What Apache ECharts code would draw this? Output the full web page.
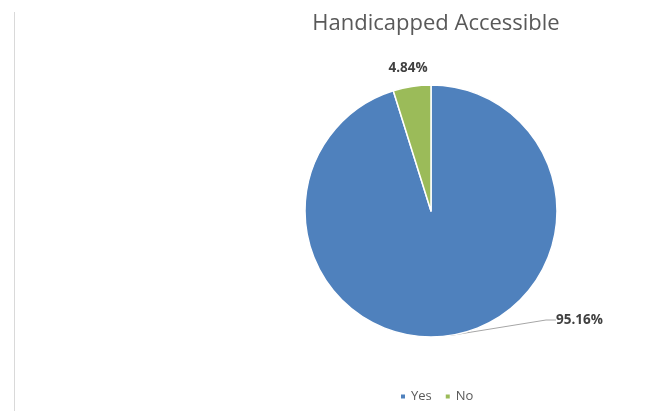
<!DOCTYPE html>
<html><head><meta charset="utf-8">
<script src="https://cdn.jsdelivr.net/npm/echarts@6/dist/echarts.min.js"></script>
<style>html,body{margin:0;padding:0;background:#fff}#c{width:665px;height:415px}</style>
</head><body><div id="c"></div>
<script>
const categories = ['Yes', 'No'];
const values = [95.16, 4.84];
const colors = ['#4f81bd', '#9bbb59'];
const chart = echarts.init(document.getElementById('c'));
chart.setOption({
  animation: false,
  graphic: [{ type: 'line', shape: { x1: 14.5, y1: 12, x2: 14.5, y2: 411 }, style: { stroke: '#d9d9d9', lineWidth: 1 } }],
  title: {
    text: 'Handicapped Accessible', left: 431, top: 8, textAlign: 'center',
    textStyle: { fontFamily: 'Open Sans', fontSize: 22, fontWeight: 'normal', color: '#595959' }
  },
  legend: {
    data: categories, top: 385, left: 394, itemWidth: 6, itemHeight: 6, itemGap: 12,
    icon: 'rect',
    textStyle: { fontFamily: 'Open Sans', fontSize: 13, color: '#595959' }
  },
  series: [{
    type: 'pie', center: [431, 211], radius: 126, startAngle: 90, clockwise: true,
    itemStyle: { borderColor: '#fff', borderWidth: 1.5 },
    label: {
      show: true, formatter: p => p.value.toFixed(2) + '%',
      fontFamily: 'Open Sans', fontSize: 13.5, fontWeight: 'bold', color: '#404040'
    },
    labelLine: { show: true, length: 10, length2: 10, lineStyle: { color: '#a6a6a6', width: 1 } },
    labelLayout: function (p) {
      if (p.dataIndex === 0) return { x: 556, y: 320, align: 'left', verticalAlign: 'middle' };
      return { x: 408, y: 68, align: 'center', verticalAlign: 'middle' };
    },
    data: categories.map((c, i) => ({
      name: c, value: values[i], itemStyle: { color: colors[i] },
      labelLine: { show: i === 0 }
    }))
  }]
});
</script></body></html>
